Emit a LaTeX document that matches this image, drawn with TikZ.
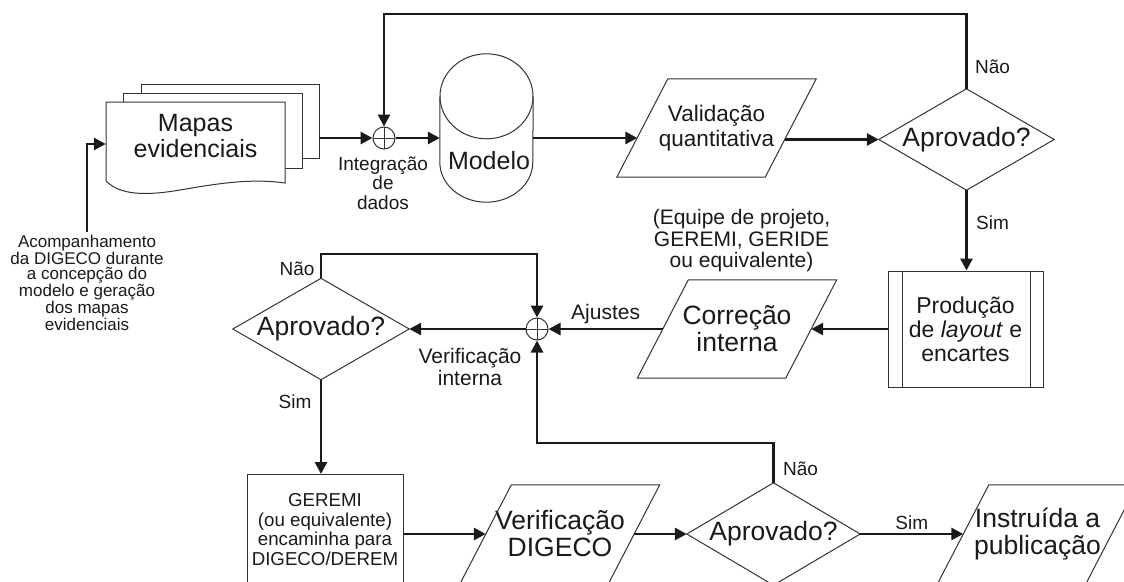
\documentclass[tikz,border=0pt]{standalone}
\usepackage{fontspec}
\setmainfont{Liberation Sans}
\usetikzlibrary{arrows.meta,calc}
\definecolor{ink}{HTML}{1A1A1A}
\definecolor{edge}{HTML}{333333}

\begin{document}
\begin{tikzpicture}[x=1pt,y=-1pt,text=ink,
  flow/.style={draw=ink, line width=2.8pt, -{Triangle[length=12pt,width=12pt]}},
  outline/.style={draw=edge, line width=1pt},
  area/.style n args={2}{minimum width=#1, minimum height=#2, inner sep=0pt, align=center},
  sumnode/.style={circle, outline, fill=white, minimum size=22pt, inner sep=0pt,
    path picture={\draw[edge, line width=1pt] (path picture bounding box.north) -- (path picture bounding box.south)
      (path picture bounding box.west) -- (path picture bounding box.east);}},
  subproc/.style={outline, path picture={\draw[edge, line width=1pt]
      ([xshift=14pt]path picture bounding box.north west) -- ([xshift=14pt]path picture bounding box.south west)
      ([xshift=-13pt]path picture bounding box.north east) -- ([xshift=-13pt]path picture bounding box.south east);}},
  txthuge/.style={font=\fontsize{26.5}{27}\selectfont},
  txtbig/.style={font=\fontsize{25}{26}\selectfont},
  txtprod/.style={font=\fontsize{23}{24}\selectfont},
  txtmid/.style={font=\fontsize{22.5}{25}\selectfont},
  txtsmall/.style={font=\fontsize{21}{21.5}\selectfont},
  txtlabel/.style={font=\fontsize{19}{19.5}\selectfont},
  txtgeremi/.style={font=\fontsize{18.7}{19.7}\selectfont},
  txtnote/.style={font=\fontsize{17}{15.3}\selectfont}]

\fill[white] (0,0) rectangle (1124,581);
\useasboundingbox (0,0) rectangle (1124,581);
\clip (0,0) rectangle (1124,581);

% pilha de documentos
\draw[outline, fill=white] (141,84) rectangle (319,158);
\draw[outline, fill=white] (123,93) rectangle (302,168);
\draw[outline, fill=white] (106,102) -- (285,102) -- (285,183)
  .. controls (250,178) and (215,184) .. (180,190)
  .. controls (145,196) and (120,195) .. (106,181) -- cycle;
\node[area={179pt}{68pt}, txtbig] (mapas) at (195.5,136) {Mapas\\evidenciais};
\coordinate (stackout) at (319,138);

\node[txtnote, align=center] (acomp) at (87,283) {Acompanhamento\\da DIGECO durante\\a concepção do\\modelo e geração\\dos mapas\\evidenciais};

\node[sumnode] (sum1) at (384,138) {};
\node[txtlabel, align=center] (integ) at (383,183) {Integração\\de\\dados};

% cilindro
\node[area={93pt}{148pt}] (modelo) at (486.5,128) {};
\draw[outline] ($(modelo.north)+(0,42.5)$) ellipse [x radius=46.5pt, y radius=42.5pt];
\draw[outline] ($(modelo.north west)+(0,42.5)$) -- ($(modelo.south west)+(0,-40)$)
  arc[start angle=180, end angle=360, x radius=46.5pt, y radius=40pt] -- ($(modelo.north east)+(0,42.5)$);
\node[txtbig] (modelotxt) at (489,161) {Modelo};

\node[area={148pt}{98pt}, txtmid] (val) at (716.5,128) {Validação\\quantitativa};
\node[area={175pt}{101pt}, txthuge] (dec1) at (966.5,139.5) {Aprovado?};
\node[area={155pt}{116pt}, subproc, txtprod] (prod) at (965.5,329) {Produção\\de \textit{layout} e\\encartes};
\node[area={148pt}{98pt}, txthuge] (corr) at (737,329) {Correção\\interna};
\node[txtsmall, align=center] (equipe) at (741.5,241) {(Equipe de projeto,\\GEREMI, GERIDE\\ou equivalente)};
\node[sumnode] (sum2) at (537,329) {};
\node[area={176pt}{101pt}, txthuge] (dec2) at (321,329) {Aprovado?};
\node[txtsmall, align=center] (verint) at (470,367) {Verificação\\interna};
\node[outline, txtgeremi, anchor=north, minimum width=156pt, inner xsep=2pt, inner ysep=19pt, align=center]
  (geremi) at (325,474) {GEREMI\\(ou equivalente)\\encaminha para\\DIGECO/DEREM};
\node[area={148pt}{98pt}, txthuge] (verif) at (560,534) {Verificação\\DIGECO};
\node[area={173pt}{102pt}, txthuge] (dec3) at (773.5,534) {Aprovado?};
\node[area={148pt}{98pt}, txthuge] (instr) at (1037.5,534) {Instruída a\\publicação};

% contornos
\foreach \n in {val,corr,verif,instr}
  \draw[outline] ($(\n.north west)+(25.5,0)$) -- ($(\n.north east)+(25.5,0)$)
    -- ($(\n.south east)+(-25.5,0)$) -- ($(\n.south west)+(-25.5,0)$) -- cycle;
\foreach \n in {dec1,dec2,dec3}
  \draw[outline] (\n.north) -- (\n.east) -- (\n.south) -- (\n.west) -- cycle;

% ligacoes
\coordinate (ytop) at (0,14);
\coordinate (ymid) at (0,254);
\coordinate (ylow) at (0,443);
\draw[flow] (acomp.north) |- ($(mapas.west)+(0,8)$);
\draw[flow] (stackout) -- (sum1);
\draw[flow] (sum1) -- (sum1 -| modelo.west);
\draw[flow] (sum1 -| modelo.east) -- ($(val.west)+(-5,10)$);
\draw[flow] ($(dec1.west -| val.east)+(-6,0)$) -- (dec1.west);
\draw[flow] (dec1.north) |- (sum1 |- ytop) -- (sum1);
\node[txtlabel, anchor=west] (nao1) at ($(dec1.north)+(5,-22)$) {Não};
\draw[flow] (dec1.south) -- (dec1.south |- prod.north) node[txtlabel, pos=.4, right=5pt] (sim1) {Sim};
\draw[flow] (prod.west) -- (corr.east);
\draw[flow] (corr.west) -- (sum2) node[txtsmall, midway, above] (ajustes) {Ajustes};
\draw[flow] (sum2) -- (dec2.east);
\draw[flow] (dec2.north) |- (sum2 |- ymid) -- (sum2);
\node[txtlabel, anchor=east] (nao2) at ($(dec2.north)+(-3,-10)$) {Não};
\draw[flow] (dec2.south) -- (dec2.south |- geremi.north);
\node[txtlabel, anchor=east] (sim2) at ($(dec2.south)+(-6,22)$) {Sim};
\draw[flow] (verif.west -| geremi.east) -- (verif.west);
\draw[flow] (verif.east) -- (dec3.west);
\draw[flow] (dec3.north) |- (sum2 |- ylow) -- (sum2);
\node[txtlabel, anchor=west] (nao3) at ($(dec3.north)+(6,-14)$) {Não};
\draw[flow] (dec3.east) -- (instr.west) node[txtlabel, midway, above] (sim3) {Sim};

\end{tikzpicture}
\end{document}
